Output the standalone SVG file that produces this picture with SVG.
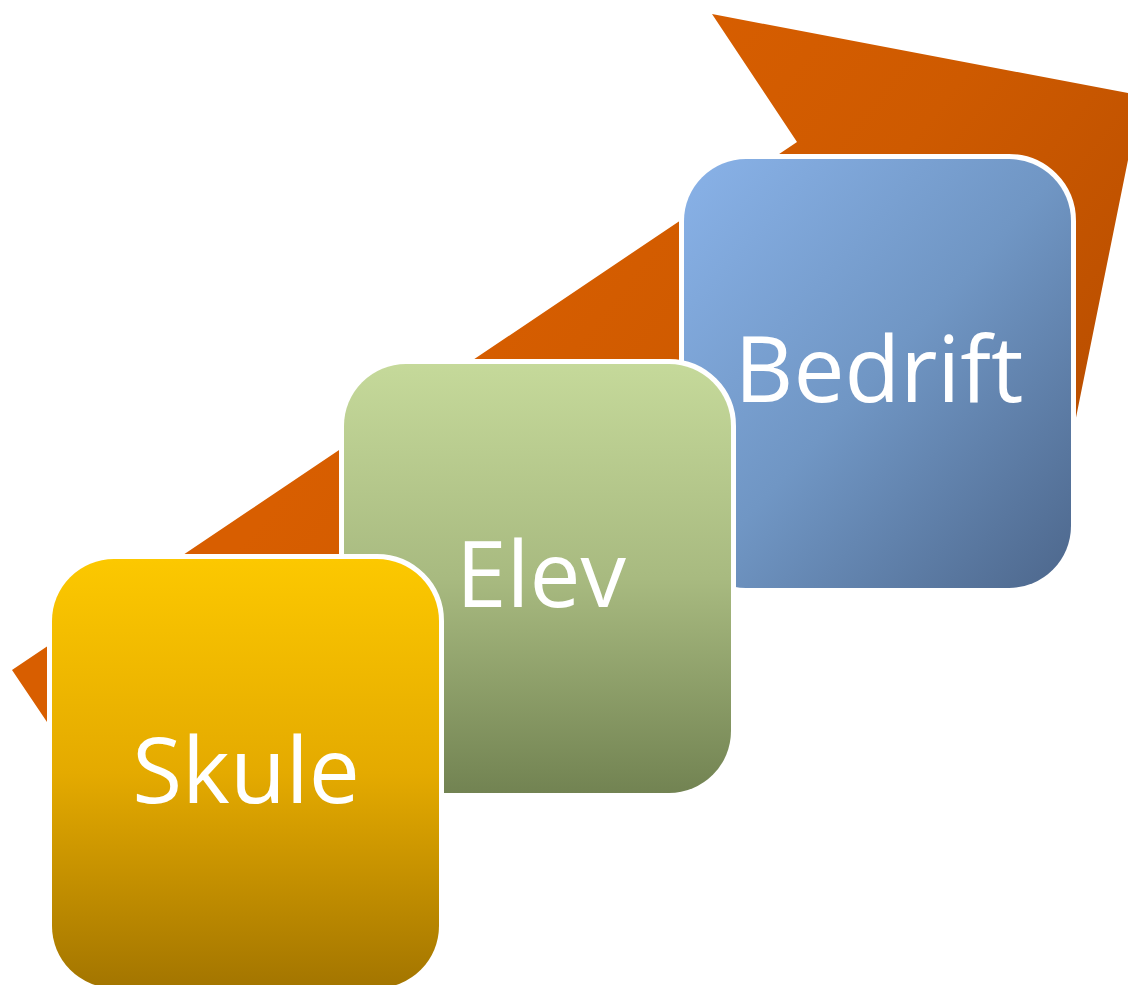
<svg xmlns="http://www.w3.org/2000/svg" width="1128" height="985" viewBox="0 0 1128 985">
  <defs>
    <linearGradient id="gArrow" gradientUnits="userSpaceOnUse" x1="640" y1="40" x2="1120" y2="420">
      <stop offset="0" stop-color="#D85E00"/>
      <stop offset="0.45" stop-color="#CE5A00"/>
      <stop offset="1" stop-color="#B94E00"/>
    </linearGradient>
    <linearGradient id="gSkule" x1="0" y1="0" x2="0" y2="1">
      <stop offset="0" stop-color="#FCC800"/>
      <stop offset="0.5" stop-color="#E4AA00"/>
      <stop offset="1" stop-color="#A37500"/>
    </linearGradient>
    <linearGradient id="gElev" x1="0" y1="0" x2="0" y2="1">
      <stop offset="0" stop-color="#C5D99A"/>
      <stop offset="0.5" stop-color="#A8BA80"/>
      <stop offset="1" stop-color="#728352"/>
    </linearGradient>
    <linearGradient id="gBedrift" x1="0" y1="0" x2="1" y2="1">
      <stop offset="0" stop-color="#89B2E8"/>
      <stop offset="0.5" stop-color="#7096C4"/>
      <stop offset="1" stop-color="#4D678C"/>
    </linearGradient>
  </defs>
  <style>
    .box { stroke: #FFFFFF; stroke-width: 10; paint-order: stroke; }
    .lbl { font-family: "Open Sans", "Liberation Sans", sans-serif; font-size: 91px; fill: #FFFFFF; text-anchor: middle; }
  </style>
  <g id="arrow">
    <polygon points="12,670 797,142 712,14 1141,95.5 1073.5,430 925.5,207 82,774" fill="url(#gArrow)"/>
  </g>
  <g id="node-bedrift">
    <rect class="box" x="684" y="159" width="387" height="429" rx="62" ry="62" fill="url(#gBedrift)"/>
    <text class="lbl" x="879" y="402">Bedrift</text>
  </g>
  <g id="node-elev">
    <rect class="box" x="344" y="364" width="387" height="429" rx="62" ry="62" fill="url(#gElev)"/>
    <text class="lbl" x="541" y="607">Elev</text>
  </g>
  <g id="node-skule">
    <rect class="box" x="52" y="559" width="387" height="429" rx="62" ry="62" fill="url(#gSkule)"/>
    <text class="lbl" x="246" y="803">Skule</text>
  </g>
</svg>
